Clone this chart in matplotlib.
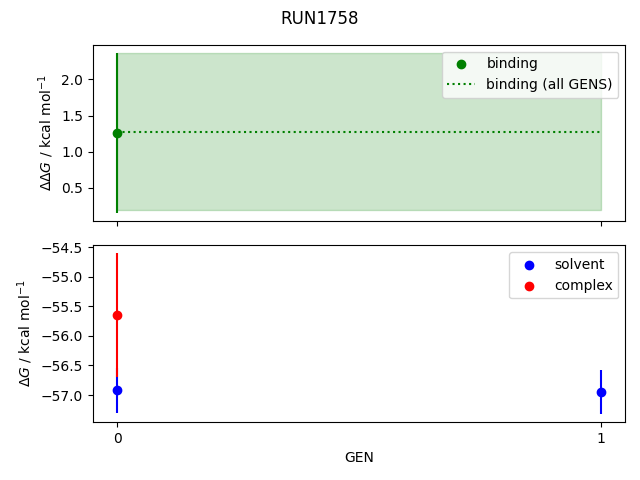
import numpy as np
import matplotlib
matplotlib.use("Agg")
import matplotlib.pyplot as plt

gens = [0, 1]

# binding free energy (only GEN 0 available)
binding_gen = [0]
binding = [1.26]
binding_err = [1.11]
binding_all = 1.27
binding_all_low = 0.19
binding_all_high = 2.36

solvent = [-56.92, -56.95]
solvent_err = [0.38, 0.37]
complex_gen = [0]
complex_dg = [-55.65]
complex_err = [1.05]

fig, (ax1, ax2) = plt.subplots(2, 1, sharex=True, figsize=(6.4, 4.8))
fig.suptitle('RUN1758')

ax1.fill_between(gens, [binding_all_low] * 2, [binding_all_high] * 2, color='green', alpha=0.2)
ax1.errorbar(binding_gen, binding, yerr=binding_err, fmt='none', color='green')
ax1.scatter(binding_gen, binding, color='green', label='binding')
ax1.plot(gens, [binding_all] * 2, color='green', linestyle=':', label='binding (all GENS)')
ax1.set_ylabel(r'$\Delta\Delta G$ / kcal mol$^{-1}$')
ax1.legend(loc='upper right')

ax2.errorbar(gens, solvent, yerr=solvent_err, fmt='none', color='blue')
ax2.scatter(gens, solvent, color='blue', label='solvent')
ax2.errorbar(complex_gen, complex_dg, yerr=complex_err, fmt='none', color='red')
ax2.scatter(complex_gen, complex_dg, color='red', label='complex')
ax2.set_ylabel(r'$\Delta G$ / kcal mol$^{-1}$')
ax2.set_xlabel('GEN')
ax2.set_xticks(gens)
ax2.legend(loc='upper right')

fig.subplots_adjust(left=0.145, right=0.977, top=0.907, bottom=0.121, hspace=0.136)
plt.savefig('out.png', dpi=100)
